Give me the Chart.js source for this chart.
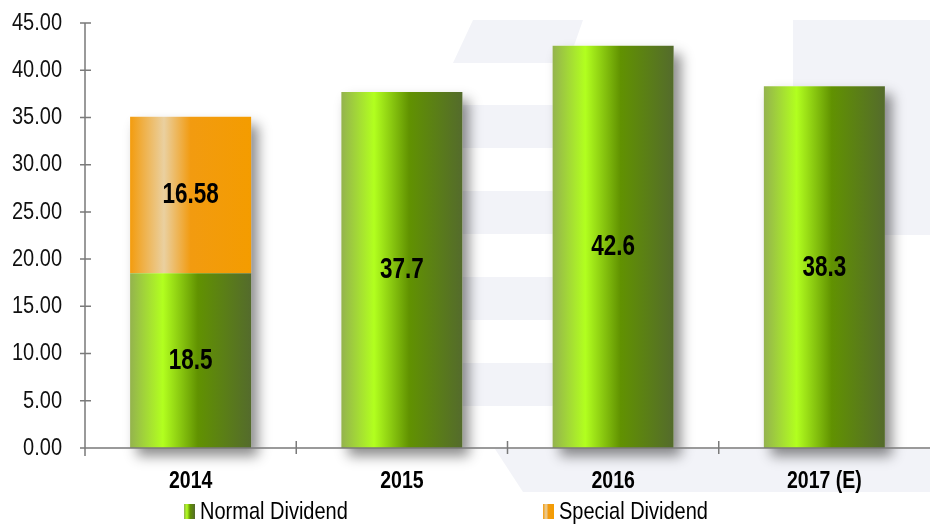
<!DOCTYPE html>
<html>
<head>
<meta charset="utf-8">
<script src="https://cdn.jsdelivr.net/npm/chart.js@4.4.0/dist/chart.umd.min.js"></script>
<style>
  html, body { margin: 0; padding: 0; background: #fff; }
</style>
</head>
<body>
<canvas id="chart" width="930" height="525"></canvas>
<script>
const years = ['2014', '2015', '2016', '2017 (E)']
const normalDividend = [18.5, 37.7, 42.6, 38.3]
const specialDividend = [16.58, null, null, null]
const seriesNames = ['Normal Dividend', 'Special Dividend']

const FONT = '"Liberation Sans", Arial, sans-serif'
const BAR_PCT = 0.573
const greenStops = [[0, '#94b34e'], [0.27, '#b2ff1f'], [0.56, '#619201'], [1, '#546b2c']]
const orangeStops = [[0, '#f39c0e'], [0.28, '#ead0a0'], [0.5, '#f29b10'], [1, '#f49c00']]

function hGrad(ctx, x0, x1, stops) {
  const g = ctx.createLinearGradient(x0, 0, x1, 0)
  stops.forEach(([p, c]) => g.addColorStop(p, c))
  return g
}

function barFill(stops) {
  return function (context) {
    const chart = context.chart
    const area = chart.chartArea
    if (!area) return stops[1][1]
    const x = chart.scales.x.getPixelForValue(context.dataIndex)
    const w = area.width / years.length * BAR_PCT
    return hGrad(chart.ctx, x - w / 2, x + w / 2, stops)
  }
}

// text a little taller than wide, like the original's condensed face
function tallText(ctx, text, x, y, font, stretch, align) {
  ctx.save()
  ctx.font = font
  ctx.textAlign = align
  ctx.textBaseline = 'middle'
  ctx.translate(x, y)
  ctx.scale(1, stretch)
  ctx.fillText(text, 0, 0)
  ctx.restore()
}

// faint watermark behind the plot
const watermark = {
  id: 'watermark',
  beforeDraw(chart) {
    const ctx = chart.ctx
    ctx.save()
    ctx.fillStyle = '#f2f3f8'
    ctx.beginPath()
    ctx.moveTo(473, 20); ctx.lineTo(583, 20); ctx.lineTo(568, 63); ctx.lineTo(453, 63)
    ctx.closePath(); ctx.fill()
    ;[105, 191, 277, 363].forEach(y => ctx.fillRect(440, y, 120, 43))
    ctx.fillRect(793, 20, 137, 215)
    ctx.beginPath()
    ctx.moveTo(495, 449); ctx.lineTo(930, 449); ctx.lineTo(930, 492); ctx.lineTo(523, 492)
    ctx.closePath(); ctx.fill()
    ctx.restore()
  }
}

// soft shadow to the lower right of each stacked bar
const barShadow = {
  id: 'barShadow',
  beforeDatasetsDraw(chart) {
    const ctx = chart.ctx
    const metas = chart.data.datasets.map((d, i) => chart.getDatasetMeta(i))
    years.forEach((y, i) => {
      const els = metas.map(m => m.data[i]).filter((el, k) => el && chart.data.datasets[k].data[i] != null)
      if (!els.length) return
      const top = Math.min(...els.map(el => el.y))
      const base = els[0].base
      const x = els[0].x, w = els[0].width
      ctx.save()
      ctx.shadowColor = 'rgba(0,0,0,0.45)'
      ctx.shadowBlur = 12
      ctx.shadowOffsetX = 7
      ctx.shadowOffsetY = 8
      ctx.fillStyle = '#fff'
      ctx.fillRect(x - w / 2, top, w, base - top)
      ctx.restore()
    })
  }
}

// axis lines, crossing tick marks and tick labels
const axes = {
  id: 'axes',
  afterDatasetsDraw(chart) {
    const ctx = chart.ctx
    const { left, right, top, bottom } = chart.chartArea
    const ys = chart.scales.y
    const xs = chart.scales.x
    ctx.save()
    ctx.strokeStyle = '#7a7a7a'
    ctx.lineWidth = 1.5
    ctx.beginPath()
    ctx.moveTo(left, top); ctx.lineTo(left, bottom + 8)
    ctx.moveTo(left, bottom); ctx.lineTo(right, bottom)
    ys.ticks.forEach(t => {
      const y = ys.getPixelForValue(t.value)
      ctx.moveTo(left - 5, y); ctx.lineTo(left + 6, y)
    })
    const step = (right - left) / years.length
    for (let i = 1; i < years.length; i++) {
      const x = left + step * i
      ctx.moveTo(x, bottom - 7); ctx.lineTo(x, bottom + 6)
    }
    ctx.stroke()
    ctx.fillStyle = '#111'
    ys.ticks.forEach(t => {
      tallText(ctx, t.value.toFixed(2), left - 23, ys.getPixelForValue(t.value), '20px ' + FONT, 1.22, 'right')
    })
    ctx.fillStyle = '#000'
    years.forEach((lab, i) => {
      tallText(ctx, lab, xs.getPixelForValue(i), bottom + 33, 'bold 19.5px ' + FONT, 1.25, 'center')
    })
    ctx.restore()
  }
}

// values written in the middle of each segment
const valueLabels = {
  id: 'valueLabels',
  afterDatasetsDraw(chart) {
    const ctx = chart.ctx
    ctx.save()
    ctx.fillStyle = '#000'
    chart.data.datasets.forEach((ds, k) => {
      chart.getDatasetMeta(k).data.forEach((el, i) => {
        const v = ds.data[i]
        if (v == null) return
        tallText(ctx, String(v), el.x, (el.y + el.base) / 2, 'bold 22.5px ' + FONT, 1.35, 'center')
      })
    })
    ctx.restore()
  }
}

// legend along the bottom
const bottomLegend = {
  id: 'bottomLegend',
  afterDraw(chart) {
    const ctx = chart.ctx
    const xs = [184, 543]
    const cy = 512
    ctx.save()
    chart.data.datasets.forEach((ds, k) => {
      const x = xs[k]
      ctx.fillStyle = hGrad(ctx, x, x + 11, k === 0 ? greenStops : orangeStops)
      ctx.fillRect(x, cy - 8, 11, 15)
      ctx.fillStyle = '#000'
      tallText(ctx, ds.label, x + 16, cy, '20px ' + FONT, 1.24, 'left')
    })
    ctx.restore()
  }
}

new Chart(document.getElementById('chart'), {
  type: 'bar',
  data: {
    labels: years,
    datasets: [
      { label: seriesNames[0], data: normalDividend, backgroundColor: barFill(greenStops) },
      { label: seriesNames[1], data: specialDividend, backgroundColor: barFill(orangeStops) }
    ]
  },
  options: {
    responsive: false,
    animation: false,
    devicePixelRatio: 1,
    layout: { padding: { top: 23, left: 0, right: 0, bottom: 69 } },
    datasets: { bar: { barPercentage: BAR_PCT, categoryPercentage: 1, borderWidth: 0 } },
    plugins: { legend: { display: false }, tooltip: { enabled: false } },
    scales: {
      x: {
        stacked: true,
        grid: { display: false },
        border: { display: false },
        ticks: { display: false }
      },
      y: {
        stacked: true,
        min: 0,
        max: 45,
        grid: { display: false },
        border: { display: false },
        ticks: { display: false, stepSize: 5 },
        afterFit(scale) { scale.width = 85 }
      }
    }
  },
  plugins: [watermark, barShadow, axes, valueLabels, bottomLegend]
})
</script>
</body>
</html>
